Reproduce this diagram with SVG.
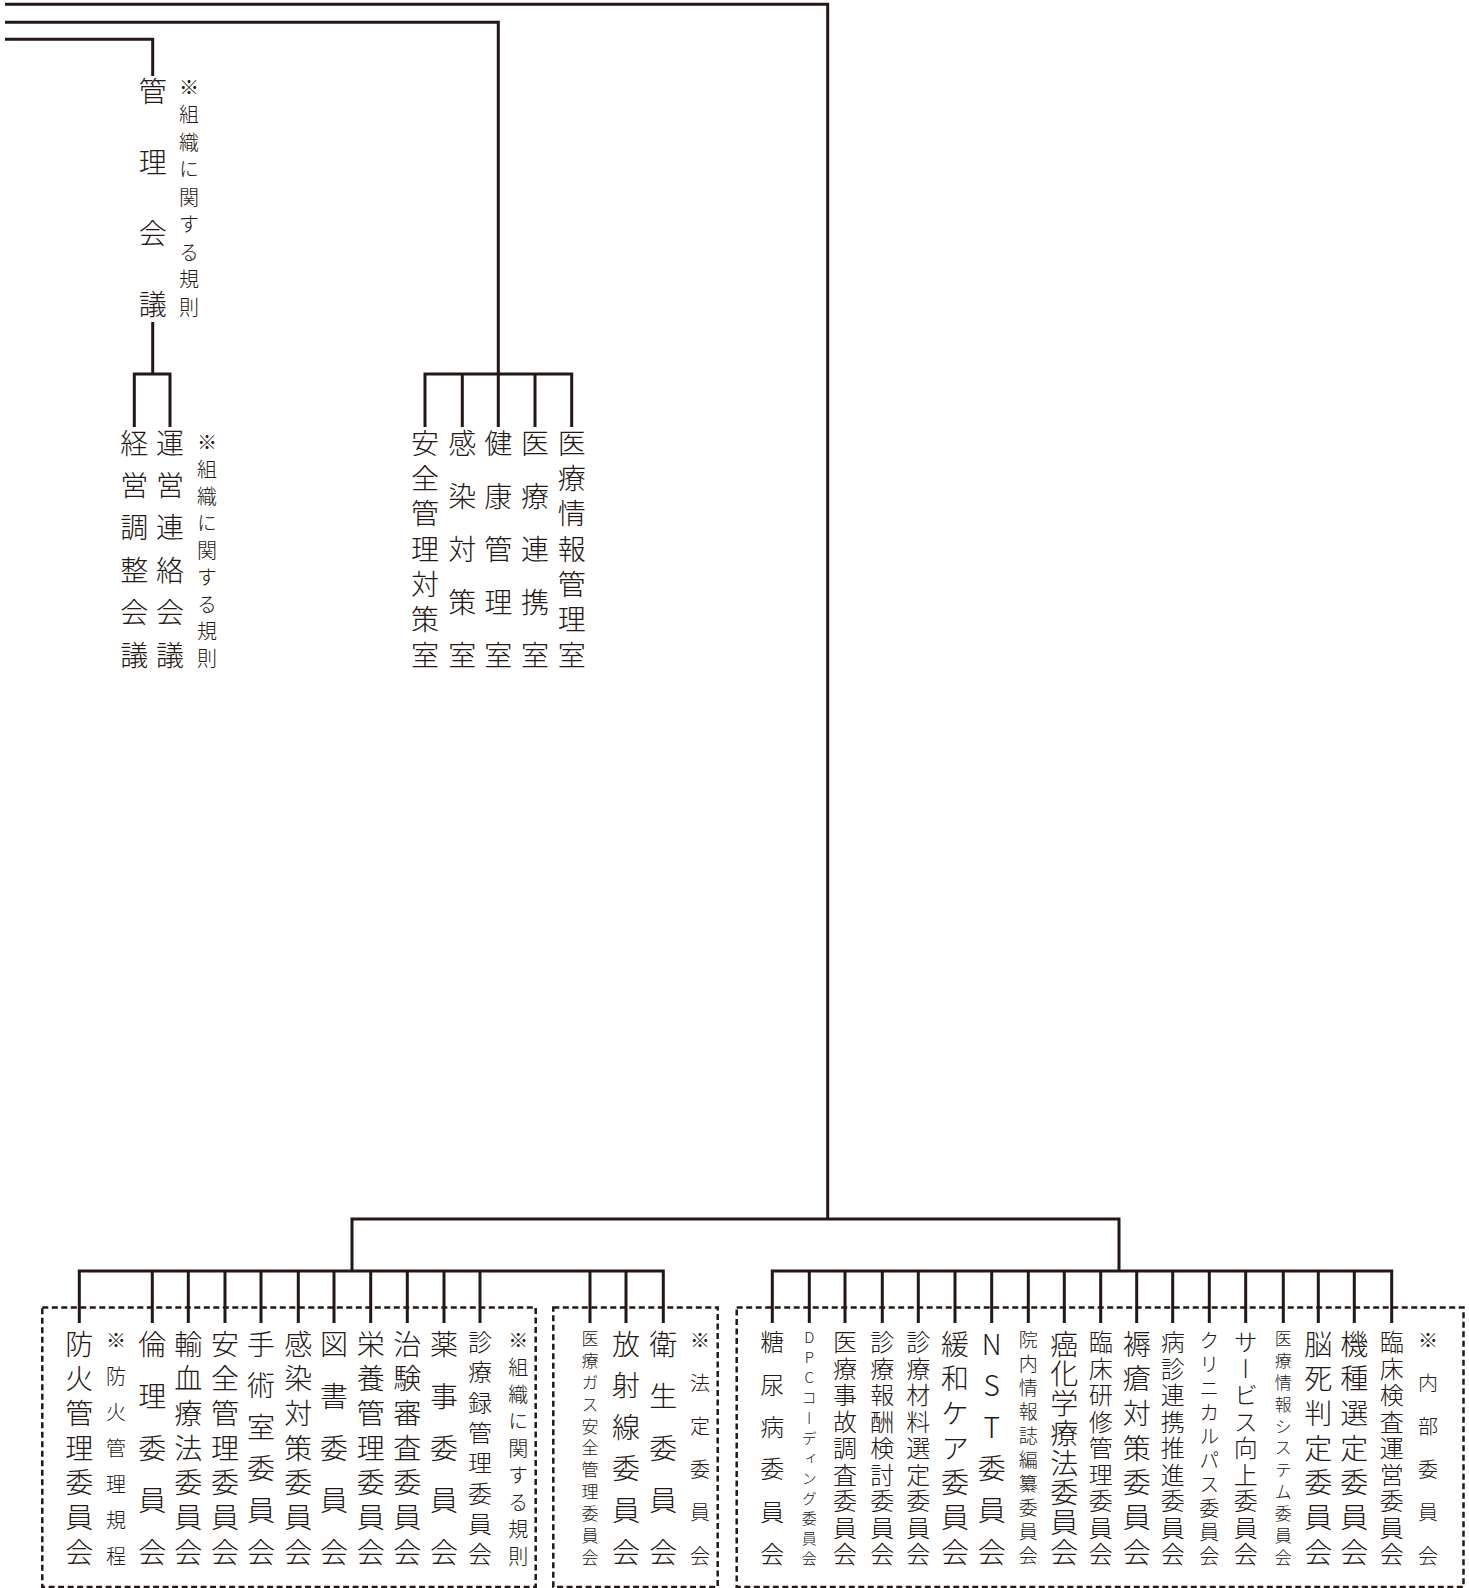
<svg xmlns="http://www.w3.org/2000/svg" width="1469" height="1588" viewBox="0 0 1469 1588">
<style>
.c{fill:none;stroke:#231815;stroke-width:3;stroke-linejoin:miter;stroke-linecap:butt}
.box{fill:none;stroke:#231815;stroke-width:2.5;stroke-dasharray:6 3.5}
.v{writing-mode:vertical-rl;text-orientation:upright;text-anchor:middle;dominant-baseline:central;font-family:"Noto Sans CJK JP","Noto Sans CJK SC",sans-serif;font-weight:300;fill:#231815}
.f28{font-size:28px}.f24{font-size:24px}.f20{font-size:20px}.f19{font-size:19px}.f17{font-size:17px}.f15{font-size:15px}
</style>
<rect width="1469" height="1588" fill="#fff"/>
<g id="connectors">
<path class="c" d="M5,4.3H827.7V1219"/>
<path class="c" d="M5,22.3H498.3V374"/>
<path class="c" d="M425,427V374H571.7V427M462.3,374V427M498.3,374V427M535,374V427"/>
<path class="c" d="M5,39.3H152.7V76"/>
<path class="c" d="M152.7,322V374"/>
<path class="c" d="M134.3,427V374H170V427"/>
<path class="c" d="M352,1271V1219H1119V1271"/>
<path class="c" d="M79.3,1323V1271H663.3V1323M152.3,1271V1323M188.3,1271V1323M225,1271V1323M261,1271V1323M298.3,1271V1323M334,1271V1323M370.7,1271V1323M407.3,1271V1323M444,1271V1323M480,1271V1323M590,1271V1323M626,1271V1323"/>
<path class="c" d="M772.3,1323V1271H1391.7V1323M809.3,1271V1323M845,1271V1323M882.3,1271V1323M918.3,1271V1323M955,1271V1323M991.7,1271V1323M1028.3,1271V1323M1064.3,1271V1323M1100.7,1271V1323M1136.7,1271V1323M1172.7,1271V1323M1209.3,1271V1323M1245.7,1271V1323M1283.3,1271V1323M1318.3,1271V1323M1354.3,1271V1323"/>
</g>
<g id="kanri-kaigi">
<text class="v f28" x="152.7" y="91 162 233 304">管理会議</text>
<text class="v f20" x="189" y="87 114.5 142 169.5 197 224.5 252 279.5 307">※組織に関する規則</text>
</g>
<g id="keiei-chosei-kaigi"><text class="v f28" x="134.3" y="443 485.4 527.8 570.2 612.6 655">経営調整会議</text></g>
<g id="unei-renraku-kaigi"><text class="v f28" x="170" y="443 485.4 527.8 570.2 612.6 655">運営連絡会議</text>
<text class="v f20" x="207" y="442 469 496 523 550 577 604 631 658">※組織に関する規則</text></g>
<g id="anzen-kanri-taisakushitsu"><text class="v f28" x="425" y="443 478.3 513.7 549 584.3 619.7 655">安全管理対策室</text></g>
<g id="kansen-taisakushitsu"><text class="v f28" x="462.3" y="443 496 549 602 655">感染対策室</text></g>
<g id="kenko-kanrishitsu"><text class="v f28" x="498.3" y="443 496 549 602 655">健康管理室</text></g>
<g id="iryo-renkeishitsu"><text class="v f28" x="535" y="443 496 549 602 655">医療連携室</text></g>
<g id="iryo-joho-kanrishitsu"><text class="v f28" x="571.7" y="443 478.3 513.7 549 584.3 619.7 655">医療情報管理室</text></g>

<g id="group-soshiki">
<rect class="box" x="42.3" y="1307.5" width="493.4" height="279.5"/>
<g id="bouka"><text class="v f28" x="79.3" y="1344 1378.7 1413.3 1448 1482.7 1517.3 1552">防火管理委員会</text>
<text class="v f20" x="116" y="1340 1376 1412 1448 1484 1520 1556">※防火管理規程</text></g>
<g id="rinri"><text class="v f28" x="152.3" y="1344 1396 1448 1500 1552">倫理委員会</text></g>
<g id="yuketsu"><text class="v f28" x="188.3" y="1344 1378.7 1413.3 1448 1482.7 1517.3 1552">輸血療法委員会</text></g>
<g id="anzen-kanri"><text class="v f28" x="225" y="1344 1378.7 1413.3 1448 1482.7 1517.3 1552">安全管理委員会</text></g>
<g id="shujutsushitsu"><text class="v f28" x="261" y="1344 1385.6 1427.2 1468.8 1510.4 1552">手術室委員会</text></g>
<g id="kansen-taisaku"><text class="v f28" x="298.3" y="1344 1378.7 1413.3 1448 1482.7 1517.3 1552">感染対策委員会</text></g>
<g id="tosho"><text class="v f28" x="334" y="1344 1396 1448 1500 1552">図書委員会</text></g>
<g id="eiyo-kanri"><text class="v f28" x="370.7" y="1344 1378.7 1413.3 1448 1482.7 1517.3 1552">栄養管理委員会</text></g>
<g id="chiken-shinsa"><text class="v f28" x="407.3" y="1344 1378.7 1413.3 1448 1482.7 1517.3 1552">治験審査委員会</text></g>
<g id="yakuji"><text class="v f28" x="444" y="1344 1396 1448 1500 1552">薬事委員会</text></g>
<g id="shinryoroku-kanri"><text class="v f24" x="480" y="1342 1372.3 1402.6 1432.9 1463.1 1493.4 1523.7 1554">診療録管理委員会</text></g>
<text class="v f20" x="518.3" y="1340 1367 1394 1421 1448 1475 1502 1529 1556">※組織に関する規則</text>
</g>

<g id="group-hotei">
<rect class="box" x="553.3" y="1307.5" width="164.4" height="279.5"/>
<g id="iryo-gas"><text class="v f17" x="590" y="1338.5 1360.4 1382.3 1404.2 1426.1 1448 1469.9 1491.8 1513.7 1535.6 1557.5">医療ガス安全管理委員会</text></g>
<g id="hoshasen"><text class="v f28" x="626" y="1344 1385.6 1427.2 1468.8 1510.4 1552">放射線委員会</text></g>
<g id="eisei"><text class="v f28" x="663.3" y="1344 1396 1448 1500 1552">衛生委員会</text></g>
<text class="v f20" x="700" y="1340 1383.2 1426.4 1469.6 1512.8 1556">※法定委員会</text>
</g>

<g id="group-naibu">
<rect class="box" x="736.7" y="1307.5" width="726.8" height="279.5"/>
<g id="tonyobyo"><text class="v f24" x="772.3" y="1342 1384.4 1426.8 1469.2 1511.6 1554">糖尿病委員会</text></g>
<g id="dpc"><text class="v f15" x="809.3" y="1337.5 1357.6 1377.7 1397.8 1417.9 1438 1458 1478.1 1498.2 1518.3 1538.4 1558.5">DPCコーディング委員会</text></g>
<g id="iryo-jiko"><text class="v f24" x="845" y="1342 1368.5 1395 1421.5 1448 1474.5 1501 1527.5 1554">医療事故調査委員会</text></g>
<g id="shinryo-hoshu"><text class="v f24" x="882.3" y="1342 1368.5 1395 1421.5 1448 1474.5 1501 1527.5 1554">診療報酬検討委員会</text></g>
<g id="shinryo-zairyo"><text class="v f24" x="918.3" y="1342 1368.5 1395 1421.5 1448 1474.5 1501 1527.5 1554">診療材料選定委員会</text></g>
<g id="kanwa-care"><text class="v f28" x="955" y="1344 1378.7 1413.3 1448 1482.7 1517.3 1552">緩和ケア委員会</text></g>
<g id="nst"><text class="v f28" x="991.7" y="1344 1385.6 1427.2 1468.8 1510.4 1552">NST委員会</text></g>
<g id="innai-johoshi"><text class="v f19" x="1028.3" y="1340 1364 1388 1412 1436 1460 1484 1508 1532 1556">院内情報誌編纂委員会</text></g>
<g id="gan-kagaku"><text class="v f28" x="1064.3" y="1344 1373.7 1403.4 1433.1 1462.9 1492.6 1522.3 1552">癌化学療法委員会</text></g>
<g id="rinsho-kenshu"><text class="v f24" x="1100.7" y="1342 1368.5 1395 1421.5 1448 1474.5 1501 1527.5 1554">臨床研修管理委員会</text></g>
<g id="jokuso"><text class="v f28" x="1136.7" y="1344 1378.7 1413.3 1448 1482.7 1517.3 1552">褥瘡対策委員会</text></g>
<g id="byoshin-renkei"><text class="v f24" x="1172.7" y="1342 1368.5 1395 1421.5 1448 1474.5 1501 1527.5 1554">病診連携推進委員会</text></g>
<g id="clinical-path"><text class="v f20" x="1209.3" y="1340 1364 1388 1412 1436 1460 1484 1508 1532 1556">クリニカルパス委員会</text></g>
<g id="service-kojo"><text class="v f24" x="1245.7" y="1342 1368.5 1395 1421.5 1448 1474.5 1501 1527.5 1554">サービス向上委員会</text></g>
<g id="iryo-joho-system"><text class="v f17" x="1283.3" y="1338.5 1360.4 1382.3 1404.2 1426.1 1448 1469.9 1491.8 1513.7 1535.6 1557.5">医療情報システム委員会</text></g>
<g id="noshi-hantei"><text class="v f28" x="1318.3" y="1344 1378.7 1413.3 1448 1482.7 1517.3 1552">脳死判定委員会</text></g>
<g id="kishu-sentei"><text class="v f28" x="1354.3" y="1344 1378.7 1413.3 1448 1482.7 1517.3 1552">機種選定委員会</text></g>
<g id="rinsho-kensa"><text class="v f24" x="1391.7" y="1342 1368.5 1395 1421.5 1448 1474.5 1501 1527.5 1554">臨床検査運営委員会</text></g>
<text class="v f20" x="1428" y="1340 1383.2 1426.4 1469.6 1512.8 1556">※内部委員会</text>
</g>
</svg>
